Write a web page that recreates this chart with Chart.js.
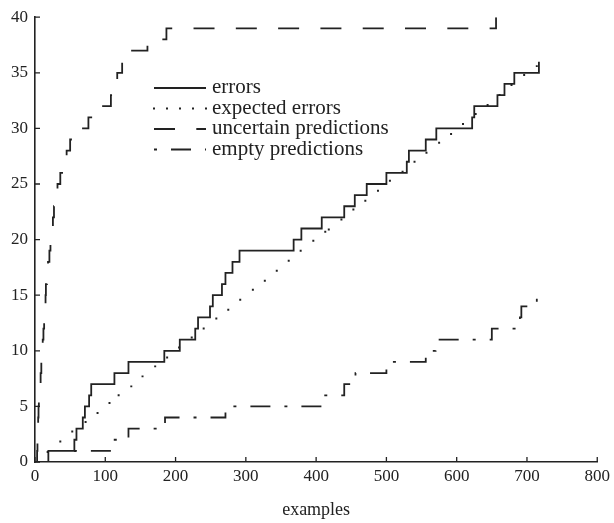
<!DOCTYPE html>
<html><head><meta charset="utf-8">
<script src="https://cdn.jsdelivr.net/npm/chart.js@4.4.1/dist/chart.umd.min.js"></script>
<style>html,body{margin:0;padding:0;background:#fff;}#wrap{width:614px;height:523px;}</style>
</head><body><div id="wrap"><canvas id="c" width="614" height="523"></canvas></div>
<script>
// ---- data ----
const xTickValues = [0,100,200,300,400,500,600,700,800];
const yTickValues = [0,5,10,15,20,25,30,35,40];
const seriesNames = ['errors','expected errors','uncertain predictions','empty predictions'];
const xTitle = 'examples';

// errors (step function: value holds from x onward)
const errorsX = [0,19,56,59,68,71,77,80,113,133,184,206,228,232,249,253,266,271,281,291,368,379,408,440,455,472,500,529,532,556,571,622,625,658,668,682,717];
const errorsY = [0,1,2,3,4,5,6,7,8,9,10,11,12,13,14,15,16,17,18,19,20,21,22,23,24,25,26,27,28,29,30,31,32,33,34,35,36];

// expected errors (dots)
const expectedX = [18,36,53,72,89,106,119,137,153,171,188,205,223,240,258,275,292,310,327,344,361,378,396,413,418,436,453,470,488,505,523,540,557,575,592,609,627,644,661,678,696,714];
const expectedY = [0.9,1.85,2.75,3.6,4.4,5.3,6.0,6.8,7.7,8.6,9.4,10.3,11.2,12.0,12.9,13.7,14.6,15.5,16.3,17.2,18.1,19.0,19.9,20.7,20.9,21.8,22.7,23.5,24.4,25.3,26.1,27.0,27.8,28.7,29.5,30.4,31.3,32.1,33.0,33.9,34.8,35.6];

// uncertain predictions (step function)
const uncertainX = [0,3,3.5,4,4.5,5,5.5,6.5,8,9,10,11,12,13,14,15,15.5,17,18.5,20.5,22,24,25.5,27,29.5,32,36,40,45,50,53,76,80,108,112,117,124,132,160,187,656];
const uncertainY = [0,1,2,3,4,5,6,7,8,9,10,11,12,13,14,15,16,17,18,19,20,21,22,23,24,25,26,27,28,29,30,31,32,33,34,35,36,37,38,39,40];

// empty predictions (step function)
const emptyX = [0,57,112,133,185,271,408,440,456,500,556,570,650,690,692,714];
const emptyY = [0,1,2,3,4,5,6,7,8,9,10,11,12,13,14,15];

// ---- drawing ----
const ink = '#222';
const serif = '"Liberation Serif", "Times New Roman", serif';
const toPts = (xs, ys) => xs.map((x, i) => ({x: x, y: ys[i]}));

const innerTicks = {
  id: 'innerTicks',
  afterDraw(chart) {
    const {ctx, chartArea: a} = chart;
    const sx = chart.scales.x, sy = chart.scales.y;
    ctx.save();
    ctx.strokeStyle = ink; ctx.lineWidth = 1.3;
    ctx.beginPath();
    xTickValues.forEach(v => { const p = sx.getPixelForValue(v); ctx.moveTo(p, a.bottom); ctx.lineTo(p, a.bottom - 5); });
    yTickValues.forEach(v => { const p = sy.getPixelForValue(v); ctx.moveTo(a.left, p); ctx.lineTo(a.left + 5, p); });
    ctx.stroke();
    ctx.restore();
  }
};

const seriesLegend = {
  id: 'seriesLegend',
  afterDatasetsDraw(chart) {
    const ctx = chart.ctx;
    const x0 = 154, x1 = 206, tx = 212, y0 = 88, dy = 20.5;
    ctx.save();
    chart.data.datasets.forEach((ds, i) => {
      const yy = y0 + i * dy;
      ctx.strokeStyle = ink; ctx.fillStyle = ink; ctx.lineWidth = 1.8;
      if (ds.showLine === false) {
        for (let k = 0; k < 5; k++) ctx.fillRect(x0 + k * 13 - 1, yy - 1, 2, 2);
      } else {
        ctx.setLineDash(ds.borderDash || []);
        ctx.lineDashOffset = ds.legendDashOffset || 0;
        ctx.beginPath(); ctx.moveTo(x0, yy); ctx.lineTo(x1, yy); ctx.stroke();
        ctx.setLineDash([]);
      }
      ctx.font = '21px ' + serif;
      ctx.textBaseline = 'alphabetic';
      ctx.fillText(ds.label, tx, yy + 5);
    });
    ctx.restore();
  }
};

const lineBase = {showLine: true, stepped: 'before', borderColor: ink, borderWidth: 1.8, pointRadius: 0, fill: false, borderCapStyle: 'butt', borderJoinStyle: 'miter'};

new Chart(document.getElementById('c'), {
  type: 'scatter',
  data: {
    datasets: [
      Object.assign({}, lineBase, {label: seriesNames[0], data: toPts(errorsX, errorsY)}),
      {label: seriesNames[1], data: toPts(expectedX, expectedY), showLine: false, pointStyle: 'rect', pointRadius: 1.4, pointBorderWidth: 0, pointBackgroundColor: ink, pointBorderColor: ink},
      Object.assign({}, lineBase, {label: seriesNames[2], data: toPts(uncertainX, uncertainY), borderDash: [21, 21.3]}),
      Object.assign({}, lineBase, {label: seriesNames[3], data: toPts(emptyX, emptyY), borderDash: [20, 14, 3, 14], borderDashOffset: 35, legendDashOffset: 34})
    ]
  },
  options: {
    responsive: false,
    animation: false,
    devicePixelRatio: 1,
    layout: {padding: {left: 0, top: 15, right: 13, bottom: 0}},
    plugins: {legend: {display: false}, tooltip: {enabled: false}},
    scales: {
      x: {
        type: 'linear', min: 0, max: 800,
        afterBuildTicks: s => { s.ticks = xTickValues.map(v => ({value: v})); },
        afterFit: s => { s.height = 61; },
        grid: {display: false, drawTicks: false},
        border: {display: true, color: ink, width: 1.6},
        ticks: {color: ink, font: {family: serif, size: 17}, padding: 4, maxRotation: 0, autoSkip: false},
        title: {display: true, text: xTitle, color: ink, font: {family: serif, size: 18}, padding: {top: 0, bottom: 2}}
      },
      y: {
        type: 'linear', min: 0, max: 40,
        afterBuildTicks: s => { s.ticks = yTickValues.map(v => ({value: v})); },
        afterFit: s => { s.width = 35; },
        grid: {display: false, drawTicks: false},
        border: {display: true, color: ink, width: 1.6},
        ticks: {color: ink, font: {family: serif, size: 17}, padding: 7, autoSkip: false}
      }
    }
  },
  plugins: [innerTicks, seriesLegend]
});
</script></body></html>
